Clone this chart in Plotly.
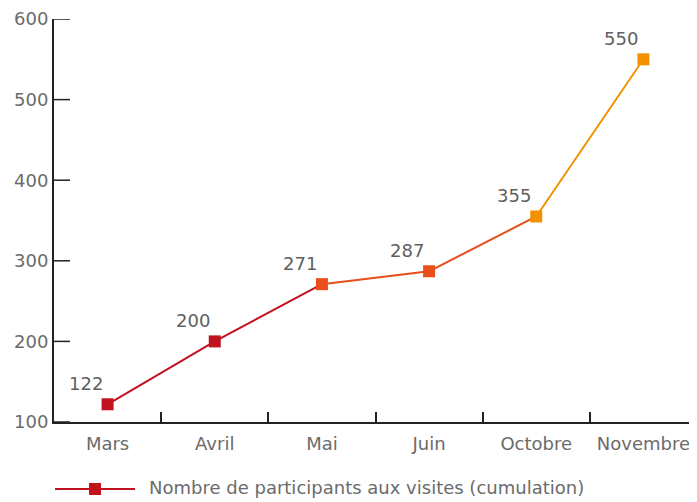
import plotly.graph_objects as go

months = ["Mars", "Avril", "Mai", "Juin", "Octobre", "Novembre"]
visits = [122, 200, 271, 287, 355, 550]
point_colors = ["#c1121f", "#c1121f", "#e94e1b", "#e94e1b", "#f39200", "#f39200"]
y_ticks = [100, 200, 300, 400, 500, 600]
series_name = "Nombre de participants aux visites (cumulation)"

font_family = "DejaVu Sans"
grey = "#6b6b6b"
axis_col = "#222222"

fig = go.Figure()

# one short line per segment, coloured like its starting point
for i in range(len(months) - 1):
    fig.add_trace(go.Scatter(
        x=months[i:i + 2],
        y=visits[i:i + 2],
        mode="lines",
        line=dict(color=point_colors[i], width=2),
        showlegend=False,
        hoverinfo="skip",
    ))

fig.add_trace(go.Scatter(
    x=months,
    y=visits,
    mode="markers",
    marker=dict(symbol="square", size=12, color=point_colors),
    name=series_name,
    showlegend=False,
))

# value labels, up and to the left of each point
for m, v in zip(months, visits):
    fig.add_annotation(x=m, y=v, text=str(v), showarrow=False,
                       xanchor="right", yanchor="middle",
                       xshift=-3, yshift=21,
                       font=dict(size=18, color="#5f5f5f", family=font_family))

# inside y ticks (16px long, pointing into the plot)
for t in y_ticks:
    fig.add_shape(type="line", xref="paper", yref="y",
                  xsizemode="pixel", xanchor=0, x0=0, x1=16,
                  y0=t, y1=t, line=dict(color=axis_col, width=1.5))

# hand-drawn legend (long line sample like the original)
fig.add_shape(type="line", xref="paper", yref="paper",
              x0=0.0016, x1=0.126, y0=-0.1663, y1=-0.1663,
              line=dict(color=point_colors[0], width=2))
fig.add_shape(type="rect", xref="paper", yref="paper",
              x0=0.0544, x1=0.0731, y0=-0.1514, y1=-0.1812,
              line=dict(width=0), fillcolor=point_colors[0])
fig.add_annotation(text=series_name, xref="paper", yref="paper",
                   x=0.1446, y=-0.163, xanchor="left", yanchor="middle",
                   showarrow=False,
                   font=dict(size=18, color=grey, family=font_family))

fig.update_xaxes(
    type="category",
    range=[-0.5, 5.5],
    automargin=False,
    showline=True, linecolor=axis_col, linewidth=2,
    ticks="inside", tickson="boundaries", ticklen=10,
    tickcolor=axis_col, tickwidth=1.5,
    ticklabelstandoff=4,
    showgrid=False, zeroline=False,
    tickfont=dict(size=18, color=grey, family=font_family),
)
fig.update_yaxes(
    range=[100, 600],
    tickvals=y_ticks,
    ticksuffix="\u2002",
    automargin=False,
    showline=True, linecolor=axis_col, linewidth=2,
    ticks="",
    showgrid=False, zeroline=False,
    tickfont=dict(size=18, color=grey, family=font_family),
)
fig.update_layout(
    width=689, height=494,
    margin=dict(l=46, r=0, t=11, b=80),
    plot_bgcolor="white", paper_bgcolor="white",
    font=dict(family=font_family),
)

fig.write_html("out.html")
